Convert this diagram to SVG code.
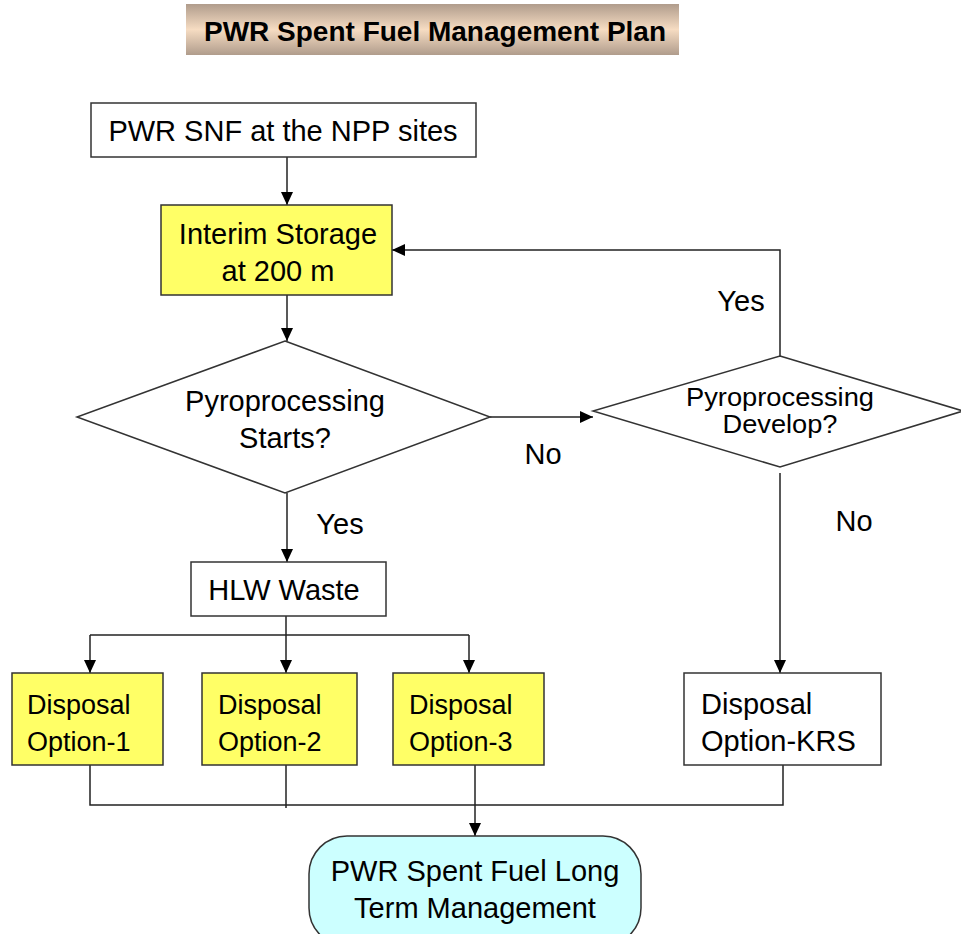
<svg xmlns="http://www.w3.org/2000/svg" width="961" height="934" viewBox="0 0 961 934">
<defs>
<linearGradient id="tg" x1="0" y1="0" x2="0" y2="1">
<stop offset="0" stop-color="#b09c8c"/>
<stop offset="0.5" stop-color="#f6dcc2"/>
<stop offset="1" stop-color="#b09c8c"/>
</linearGradient>
<marker id="ah" viewBox="0 0 13 12" refX="13" refY="6" markerWidth="13" markerHeight="12" markerUnits="userSpaceOnUse" orient="auto">
<path d="M0,0 L13,6 L0,12 z" fill="#000"/>
</marker>
<style>
text{font-family:"Liberation Sans",Arial,sans-serif;font-size:29px;fill:#000}
.box{stroke:#333;stroke-width:1.5;fill:#fff}
.yel{fill:#ffff66}
.c{fill:none;stroke:#222;stroke-width:1.5}
.a{marker-end:url(#ah)}
.m{text-anchor:middle}
.o{font-size:27px}
.d{font-size:25px}
</style>
</defs>
<rect width="961" height="934" fill="#fff"/>
<g id="title">
<rect x="186" y="4" width="493" height="51" fill="url(#tg)"/>
<text x="435" y="41" class="m" style="font-weight:bold;font-size:28px">PWR Spent Fuel Management Plan</text>
</g>
<g id="connectors">
<line class="c a" x1="287" y1="157" x2="287" y2="205"/>
<line class="c a" x1="287" y1="295" x2="287" y2="341"/>
<line class="c a" x1="490" y1="417" x2="593" y2="417"/>
<polyline class="c a" points="780,356 780,250 392,250"/>
<line class="c a" x1="780" y1="473" x2="780" y2="673"/>
<line class="c a" x1="287" y1="493" x2="287" y2="562"/>
<line class="c" x1="286" y1="616" x2="286" y2="635"/>
<line class="c" x1="90" y1="635" x2="469" y2="635"/>
<line class="c a" x1="90" y1="635" x2="90" y2="673"/>
<line class="c a" x1="286" y1="635" x2="286" y2="673"/>
<line class="c a" x1="469" y1="635" x2="469" y2="673"/>
<polyline class="c" points="90,765 90,805 783,805 783,765"/>
<line class="c" x1="286" y1="765" x2="286" y2="808"/>
<line class="c a" x1="475" y1="765" x2="475" y2="836"/>
<text x="741" y="311" class="m">Yes</text>
<text x="543" y="464" class="m">No</text>
<text x="340" y="534" class="m">Yes</text>
<text x="854" y="531" class="m">No</text>
</g>
<g id="snf">
<rect class="box" x="91" y="103" width="385" height="54"/>
<text x="283" y="141" class="m">PWR SNF at the NPP sites</text>
</g>
<g id="interim">
<rect class="box yel" x="161" y="205" width="231" height="90"/>
<text x="278" y="244" class="m">Interim Storage</text>
<text x="278" y="281" class="m">at 200 m</text>
</g>
<g id="starts">
<polygon class="box" points="285,341 490,417 285,493 77,417"/>
<text x="285" y="411" class="m">Pyroprocessing</text>
<text x="285" y="448" class="m">Starts?</text>
</g>
<g id="develop">
<polygon class="box" points="780,356 963,411 780,467 593,411"/>
<text x="780" y="406" class="m d" textLength="188" lengthAdjust="spacingAndGlyphs">Pyroprocessing</text>
<text x="780" y="433" class="m d" textLength="115" lengthAdjust="spacingAndGlyphs">Develop?</text>
</g>
<g id="hlw">
<rect class="box" x="191" y="562" width="195" height="54"/>
<text x="284" y="600" class="m">HLW Waste</text>
</g>
<g id="opt1">
<rect class="box yel" x="12" y="673" width="151" height="92"/>
<text x="27" y="714" class="o">Disposal</text>
<text x="27" y="751" class="o">Option-1</text>
</g>
<g id="opt2">
<rect class="box yel" x="202" y="673" width="155" height="92"/>
<text x="218" y="714" class="o">Disposal</text>
<text x="218" y="751" class="o">Option-2</text>
</g>
<g id="opt3">
<rect class="box yel" x="393" y="673" width="151" height="92"/>
<text x="409" y="714" class="o">Disposal</text>
<text x="409" y="751" class="o">Option-3</text>
</g>
<g id="krs">
<rect class="box" x="684" y="673" width="197" height="92"/>
<text x="701" y="714">Disposal</text>
<text x="701" y="751">Option-KRS</text>
</g>
<g id="longterm">
<rect class="box" x="309" y="836" width="332" height="110" rx="38" ry="38" style="fill:#ccffff"/>
<text x="475" y="881" class="m">PWR Spent Fuel Long</text>
<text x="475" y="918" class="m">Term Management</text>
</g>
</svg>
